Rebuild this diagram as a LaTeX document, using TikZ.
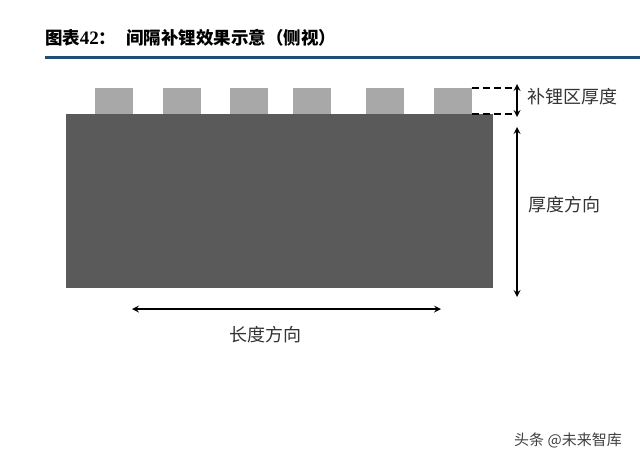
\documentclass[tikz,border=0pt]{standalone}
\usepackage{fontspec}
\setmainfont{Noto Sans CJK SC}
\newfontfamily\numfont{Liberation Serif}
\usepackage{tikz}

\definecolor{bulkgray}{HTML}{5A5A5A}
\definecolor{tabgray}{HTML}{A8A8A8}
\definecolor{rulebar}{HTML}{1F4E79}

\tikzset{
  bulk/.style={fill=bulkgray, minimum width=427pt, minimum height=174pt},
  tab/.style={fill=tabgray, minimum width=38pt, minimum height=26pt},
  dim/.style={draw=black, line width=2pt, <->, >=stealth},
  guide/.style={draw=black, line width=1.8pt, dash pattern=on 7pt off 4pt},
  label/.style={font=\fontsize{18}{18}\selectfont, text=black!80}
}

\begin{document}
\begin{tikzpicture}[x=1pt, y=-1pt, every node/.style={inner sep=0pt, outer sep=0pt}]
			\useasboundingbox (0,0) rectangle (640,464);
			
			% header
			\node[anchor=base west, font=\bfseries\fontsize{17.5}{18}\selectfont] (title) at (45,44) {图表{\numfont\bfseries\fontsize{19}{19}\selectfont 42}：};
			\node[anchor=base west, font=\bfseries\fontsize{17.5}{18}\selectfont] (caption) at (126,44) {间隔补锂效果示意（侧视）};
			\coordinate (rulel) at (45,57);
			\coordinate (ruler) at (640,57);
			\draw[rulebar, line width=3pt] (rulel) -- (ruler);
			
			% electrode with lithium strips
			\node[bulk] (base) at (279.5,201) {};
			\foreach \cx [count=\i] in {114,181.5,248.5,311.5,385,452.5}
				\node[tab] (tab\i) at (\cx,101) {};
			
			% dimension marks
			\coordinate (dt) at (515,88);
			\coordinate (db) at (515,114);
			\coordinate (lt) at (517,84);
			\coordinate (lb) at (517,117);
			\coordinate (ht) at (517,127);
			\coordinate (hb) at (517,297);
			\coordinate (wl) at (132,309);
			\coordinate (wr) at (441,309);
			
			\path[guide] (tab6.north east) -- (dt);
			\path[guide] (tab6.south east) -- (db);
			\path[dim] (lt) -- (lb);
			\path[dim] (ht) -- (hb);
			\path[dim] (wl) -- (wr);
			
			\node[label, anchor=west] (litext) at (527,97) {补锂区厚度};
			\node[label, anchor=west] (htext) at (528,205) {厚度方向};
			\node[label] (wtext) at (265.5,335) {长度方向};
			
			\node[font=\fontsize{15}{15}\selectfont, text=black!75] (mark) at (568,440) {头条 @未来智库};
\end{tikzpicture}
\end{document}
